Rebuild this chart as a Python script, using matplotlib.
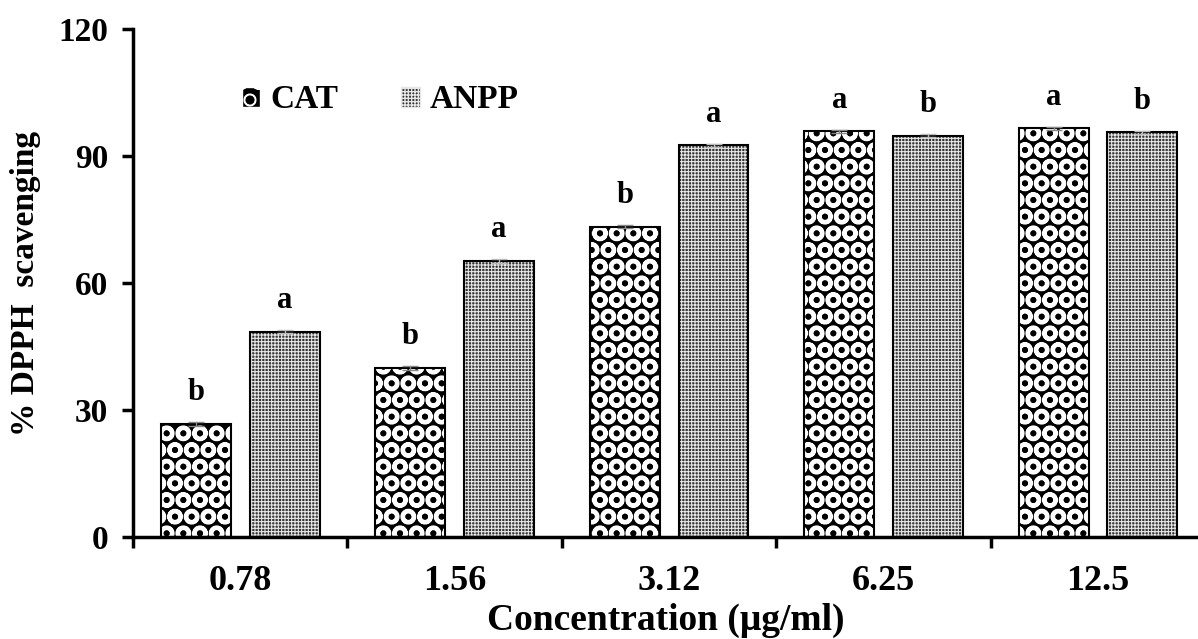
import numpy as np
import matplotlib
matplotlib.use('Agg')
import matplotlib.pyplot as plt
from matplotlib.ticker import FixedLocator
from matplotlib.patches import Patch

plt.rcParams['font.family'] = ['Liberation Serif', 'DejaVu Serif']
plt.rcParams['font.weight'] = 'bold'

concentrations = ['0.78', '1.56', '3.12', '6.25', '12.5']
cat_values = [26.7, 39.9, 73.3, 95.8, 96.5]
anpp_values = [48.5, 65.2, 92.5, 94.8, 95.6]
cat_err = [0.4, 0.4, 0.4, 0.4, 0.4]
anpp_err = [0.4, 0.4, 0.4, 0.4, 0.4]
cat_letters = ['b', 'b', 'b', 'a', 'a']
anpp_letters = ['a', 'a', 'a', 'b', 'b']

fig = plt.figure(figsize=(11.98, 6.39), dpi=100)
ax = fig.add_axes([0.111, 0.1596, 0.889, 0.795])

x = np.arange(len(concentrations))
w = 0.326
off = 0.207

cat_style = dict(facecolor='black', edgecolor='white', hatch='O')
anpp_style = dict(facecolor='#333333', edgecolor='#e6e6e6', hatch='+++++')

with plt.rc_context({'hatch.linewidth': 3.0}):
    ax.bar(x - off, cat_values, w, linewidth=0, **cat_style)
    h1 = Patch(**cat_style)
with plt.rc_context({'hatch.linewidth': 0.8}):
    ax.bar(x + off, anpp_values, w, linewidth=0, **anpp_style)
    h2 = Patch(**anpp_style)
ax.bar(x - off, cat_values, w, fill=False, edgecolor='black', linewidth=1.5)
ax.bar(x + off, anpp_values, w, fill=False, edgecolor='black', linewidth=1.5)

ax.errorbar(x - off, cat_values, yerr=cat_err, fmt='none', ecolor='#888888', capsize=6, elinewidth=1)
ax.errorbar(x + off, anpp_values, yerr=anpp_err, fmt='none', ecolor='#bbbbbb', capsize=6, elinewidth=1)

for xi, v, t in zip(x - off, cat_values, cat_letters):
    ax.annotate(t, (xi, v), xytext=(0, 12), textcoords='offset points',
                ha='center', va='bottom', fontsize=22, fontweight='bold')
for xi, v, t in zip(x + off, anpp_values, anpp_letters):
    ax.annotate(t, (xi, v), xytext=(0, 12), textcoords='offset points',
                ha='center', va='bottom', fontsize=22, fontweight='bold')

ax.set_xlim(-0.5, 4.466)
ax.set_ylim(0, 120)
ax.set_yticks([0, 30, 60, 90, 120])
ax.set_xticks(x)
ax.set_xticklabels(concentrations)
ax.xaxis.set_minor_locator(FixedLocator([-0.5, 0.5, 1.5, 2.5, 3.5]))
ax.tick_params(axis='x', which='major', length=0, pad=20, labelsize=26)
ax.tick_params(axis='x', which='minor', length=8, width=2.5, direction='out')
ax.tick_params(axis='y', length=8, width=2.5, direction='out', labelsize=24, pad=10)
for lab in ax.get_xticklabels() + ax.get_yticklabels():
    lab.set_fontweight('bold')

ax.spines['top'].set_visible(False)
ax.spines['right'].set_visible(False)
ax.spines['left'].set_linewidth(2.5)
ax.spines['bottom'].set_linewidth(2.5)

ax.set_xlabel('Concentration (μg/ml)', fontsize=27, fontweight='bold', labelpad=4)
ax.set_ylabel('% DPPH  scavenging', fontsize=24, fontweight='bold', labelpad=12)

leg = ax.legend([h1, h2], ['CAT', 'ANPP'], loc='upper left', bbox_to_anchor=(0.074, 0.95),
                ncol=2, frameon=False, fontsize=24, handlelength=0.55, handleheight=0.55,
                handletextpad=0.3, columnspacing=1.9)
for t in leg.get_texts():
    t.set_fontweight('bold')

fig.savefig('out.png', dpi=100)
